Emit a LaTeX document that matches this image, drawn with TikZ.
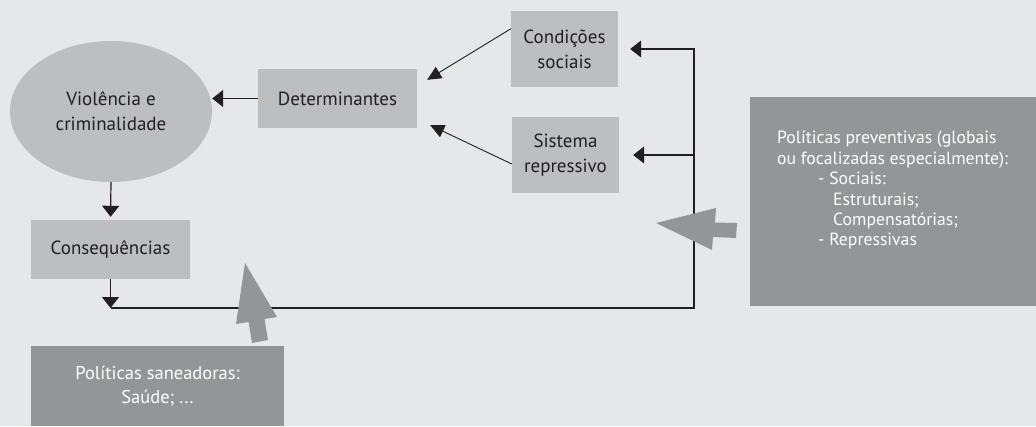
\documentclass[tikz,border=0pt]{standalone}
\usepackage{fontspec}
\setmainfont{PT Sans}
\usetikzlibrary{arrows.meta}
\usetikzlibrary{shapes.geometric}
\usetikzlibrary{calc}
\definecolor{bg}{HTML}{E6E7E8}
\definecolor{lightgrey}{HTML}{BCBEC0}
\definecolor{darkgrey}{HTML}{939598}
\definecolor{ink}{HTML}{231F20}

\begin{document}
\begin{tikzpicture}[x=1pt, y=-1pt,
  box/.style={fill=lightgrey, text=ink, align=center, inner sep=0pt, font=\fontsize{19}{25}\selectfont},
  policy/.style={fill=darkgrey, text=white, align=center, inner sep=0pt, font=\fontsize{18.5}{24}\selectfont},
  arr/.style={-{Triangle[length=11pt,width=17pt]}, line width=1.2pt, draw=ink},
  thinarr/.style={-{Triangle[length=14pt,width=13pt]}, line width=0.9pt, draw=ink}]
  \fill[bg] (0,0) rectangle (1036,426);
  \useasboundingbox (0,0) rectangle (1036,426);

  \node[box, ellipse, minimum width=202pt, minimum height=141pt] (viol) at (111,111.5) {Violência e\\criminalidade};
  \node[box, minimum width=159pt, minimum height=59pt] (det) at (337.5,98.5) {Determinantes};
  \node[box, minimum width=107pt, minimum height=76pt] (cond) at (564.5,49) {Condições\\sociais};
  \node[box, minimum width=107pt, minimum height=76pt] (sist) at (565.5,155) {Sistema\\repressivo};
  \node[box, minimum width=159pt, minimum height=59pt] (cons) at (110.5,249.5) {Consequências};
  \node[policy, minimum width=253pt, minimum height=80pt] (san) at (157.5,386) {Políticas saneadoras:\\Saúde; ...};
  \node[policy, minimum width=286pt, minimum height=209pt] (prev) at (893,201.5) {};
  \node[anchor=north west, align=left, text=white, inner sep=0pt, font=\fontsize{17.7}{20.4}\selectfont] (prevtext) at (777,131)
    {Políticas preventivas (globais\\ou focalizadas especialmente):\\\hspace*{41pt}- Sociais:\\\hspace*{56pt}Estruturais;\\\hspace*{56pt}Compensatórias;\\\hspace*{41pt}- Repressivas};

  \coordinate (corner) at (694,308);
  \draw [arr](det.west) -- (det.west -| viol.east);
  \draw [arr, shorten >=3pt](viol.south) -- (cons.north);
  \draw [thinarr]($(cond.north west)+(0,18)$) -- ($(det.north east)+(10,11)$);
  \draw [thinarr]($(sist.west)+(0,9)$) -- ($(det.south east)+(13,-3)$);
  \draw [arr](cons.south) -- (cons.south |- corner);
  \draw [arr, shorten >=12pt](cons.south |- corner) -- (corner) |- (cond.east);
  \draw [arr, shorten >=14pt](sist.east -| corner) -- (sist.east);

  \fill [darkgrey](245,263) -- (277,317) -- (264.5,319) -- (268,340) -- (252,343) -- (248.6,322) -- (236,324) -- cycle;
  \fill [darkgrey](656,223) -- (716,208) -- (715,222.5) -- (737,223) -- (736,238) -- (713,237) -- (712,250) -- cycle;
\end{tikzpicture}
\end{document}
